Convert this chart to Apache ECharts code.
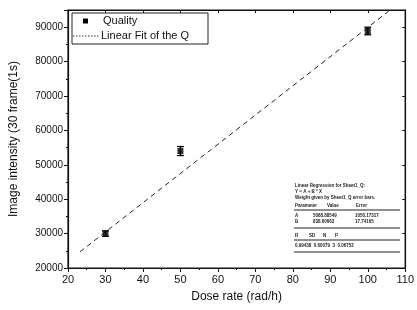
<!DOCTYPE html>
<html><head><meta charset="utf-8">
<script src="https://cdn.jsdelivr.net/npm/echarts@6/dist/echarts.min.js"></script>
<style>html,body{margin:0;padding:0;background:#fff}#c{width:417px;height:310px}</style>
</head><body><div id="c"></div>
<script>
const doseRate = [30, 50, 100];
const intensity = [30000, 54000, 88900];
const intensityErr = [800, 1300, 1100];
const fitX = [23.2, 105.6];
const fitY = [24700, 94700];
const xTicks = [20, 30, 40, 50, 60, 70, 80, 90, 100, 110];
const yTicks = [20000, 30000, 40000, 50000, 60000, 70000, 80000, 90000];
const statsLines = [
  'Linear Regression for Sheet1_Q:',
  'Y = A + B * X',
  'Weight given by Sheet1_Q error bars.'
];

const chart = echarts.init(document.getElementById('c'));
const F = 'Liberation Sans, Arial, sans-serif';
const axisCommon = {
  type: 'value',
  axisLine: {show: true, onZero: false, lineStyle: {color: '#111', width: 1.2}},
  splitLine: {show: false},
  minorTick: {show: true, splitNumber: 2, length: 2, lineStyle: {color: '#111'}},
};
const small = {fontSize: 4.5, fill: '#222', fontFamily: F, fontWeight: 'bold'};
const gLeft = 295, gTop = 183;
const graphics = [
  {type: 'rect', shape: {x: 72, y: 13, width: 136, height: 31}, style: {fill: '#fff', stroke: '#222', lineWidth: 1}, z: 100},
  {type: 'rect', shape: {x: 83, y: 18.5, width: 5, height: 5}, style: {fill: '#000'}, z: 101},
  {type: 'text', style: {text: 'Quality', x: 103, y: 21, fontSize: 11, fontFamily: F, fill: '#111', textVerticalAlign: 'middle'}, z: 101},
  {type: 'line', shape: {x1: 73, y1: 36, x2: 99, y2: 36}, style: {stroke: '#333', lineWidth: 1, lineDash: [1.5, 1.5]}, z: 101},
  {type: 'text', style: {text: 'Linear Fit of the Q', x: 101, y: 35.5, fontSize: 11, fontFamily: F, fill: '#111', textVerticalAlign: 'middle'}, z: 101},
  {type: 'text', style: Object.assign({text: statsLines.join('\n'), x: gLeft, y: gTop, lineHeight: 6}, small), z: 101},
  {type: 'text', style: Object.assign({text: 'Parameter', x: gLeft, y: 203}, small), z: 101},
  {type: 'text', style: Object.assign({text: 'Value', x: 327, y: 203}, small), z: 101},
  {type: 'text', style: Object.assign({text: 'Error', x: 356, y: 203}, small), z: 101},
  {type: 'line', shape: {x1: 294, y1: 210, x2: 400, y2: 210}, style: {stroke: '#222', lineWidth: 1}, z: 101},
  {type: 'text', style: Object.assign({text: 'A', x: gLeft, y: 213}, small), z: 101},
  {type: 'text', style: Object.assign({text: '5088.88549', x: 313, y: 213}, small), z: 101},
  {type: 'text', style: Object.assign({text: '1050.17317', x: 355, y: 213}, small), z: 101},
  {type: 'text', style: Object.assign({text: 'B', x: gLeft, y: 219}, small), z: 101},
  {type: 'text', style: Object.assign({text: '838.60663', x: 313, y: 219}, small), z: 101},
  {type: 'text', style: Object.assign({text: '17.74165', x: 355, y: 219}, small), z: 101},
  {type: 'line', shape: {x1: 294, y1: 228, x2: 400, y2: 228}, style: {stroke: '#222', lineWidth: 1}, z: 101},
  {type: 'text', style: Object.assign({text: 'R', x: gLeft, y: 233}, small), z: 101},
  {type: 'text', style: Object.assign({text: 'SD', x: 309, y: 233}, small), z: 101},
  {type: 'text', style: Object.assign({text: 'N', x: 323, y: 233}, small), z: 101},
  {type: 'text', style: Object.assign({text: 'P', x: 335, y: 233}, small), z: 101},
  {type: 'line', shape: {x1: 294, y1: 240, x2: 400, y2: 240}, style: {stroke: '#222', lineWidth: 1}, z: 101},
  {type: 'text', style: Object.assign({text: '0.99438  0.60079  3  0.06752', x: gLeft, y: 243}, small), z: 101},
  {type: 'line', shape: {x1: 294, y1: 252, x2: 400, y2: 252}, style: {stroke: '#222', lineWidth: 1}, z: 101}
];

chart.setOption({
  animation: false,
  backgroundColor: '#fff',
  grid: {left: 63, right: 9, top: 10, bottom: 42, show: true, borderColor: '#111', borderWidth: 1.2, backgroundColor: 'transparent'},
  xAxis: [
    Object.assign({}, axisCommon, {
      min: xTicks[0], max: xTicks[xTicks.length - 1], interval: 10,
      name: 'Dose rate (rad/h)', nameLocation: 'middle', nameGap: 23,
      nameTextStyle: {fontSize: 12, fontFamily: F, color: '#111'},
      axisTick: {show: true, length: 4, lineStyle: {color: '#111'}},
      axisLabel: {fontSize: 11, fontFamily: F, color: '#111', margin: 6}
    }),
    Object.assign({}, axisCommon, {
      position: 'top', min: xTicks[0], max: xTicks[xTicks.length - 1], interval: 10,
      axisTick: {show: true, inside: true, length: 3, lineStyle: {color: '#111'}},
      minorTick: {show: false},
      axisLabel: {show: false}
    })
  ],
  yAxis: [
    Object.assign({}, axisCommon, {
      min: yTicks[0], max: 95000, interval: 10000,
      name: 'Image intensity (30 frame(1s)', nameLocation: 'middle', nameGap: 48,
      nameTextStyle: {fontSize: 12, fontFamily: F, color: '#111'},
      axisTick: {show: true, length: 4, lineStyle: {color: '#111'}},
      axisLabel: {fontSize: 10, fontFamily: F, color: '#111', margin: 5, showMaxLabel: false,
        formatter: v => yTicks.includes(v) ? String(v) : ''}
    }),
    Object.assign({}, axisCommon, {
      position: 'right', min: yTicks[0], max: 95000, interval: 10000,
      axisTick: {show: true, inside: true, length: 3, lineStyle: {color: '#111'}},
      minorTick: {show: false},
      axisLabel: {show: false}
    })
  ],
  series: [
    {
      type: 'line', data: fitX.map((x, i) => [x, fitY[i]]), symbol: 'none',
      lineStyle: {color: '#222', width: 1, type: [5, 4]}, z: 2
    },
    {
      type: 'custom', data: doseRate.map((x, i) => [x, intensity[i] - intensityErr[i], intensity[i] + intensityErr[i]]),
      renderItem: (params, api) => {
        const lo = api.coord([api.value(0), api.value(1)]);
        const hi = api.coord([api.value(0), api.value(2)]);
        const w = 3.5;
        const st = {stroke: '#000', lineWidth: 1.3};
        return {type: 'group', children: [
          {type: 'line', shape: {x1: lo[0], y1: lo[1], x2: hi[0], y2: hi[1]}, style: st},
          {type: 'line', shape: {x1: lo[0] - w, y1: lo[1], x2: lo[0] + w, y2: lo[1]}, style: st},
          {type: 'line', shape: {x1: hi[0] - w, y1: hi[1], x2: hi[0] + w, y2: hi[1]}, style: st}
        ]};
      }, z: 3
    },
    {
      type: 'scatter', data: doseRate.map((x, i) => [x, intensity[i]]),
      symbol: 'rect', symbolSize: 6, itemStyle: {color: '#000'}, z: 4
    }
  ],
  graphic: graphics
});
</script></body></html>
